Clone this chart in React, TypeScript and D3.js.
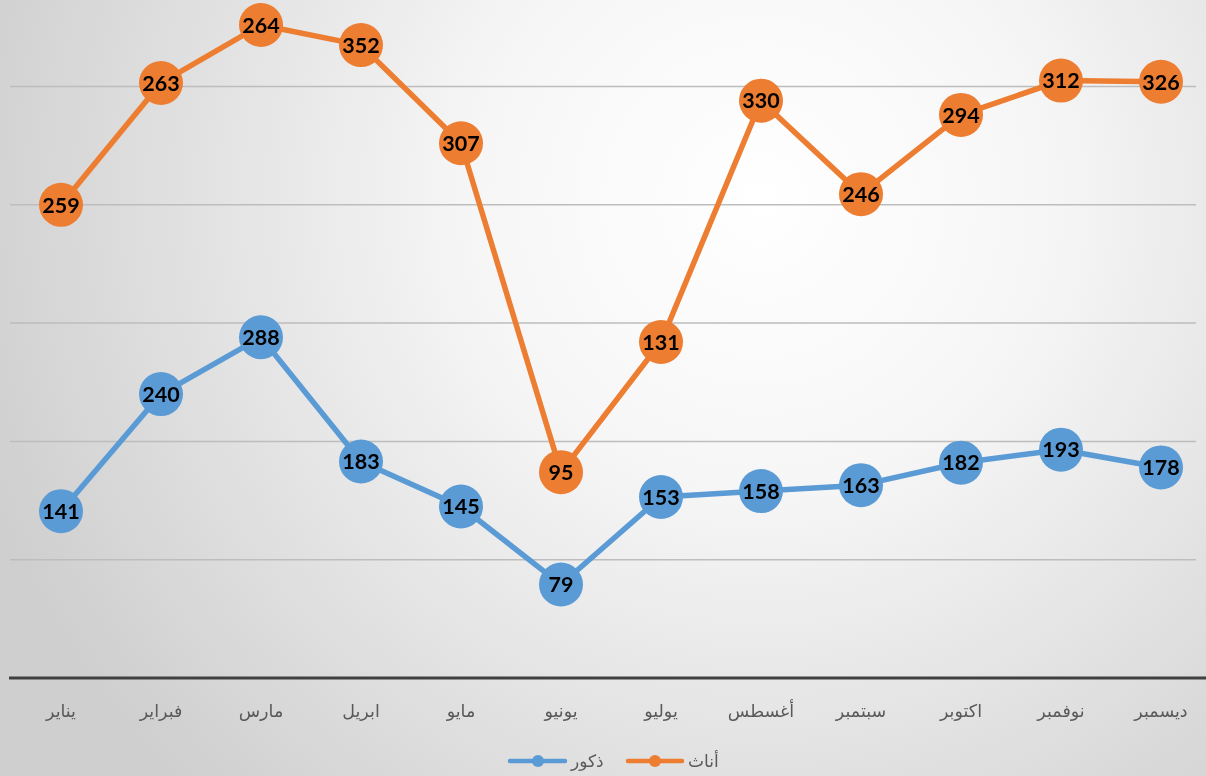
import React from 'react'
import * as d3 from 'd3'

const months = ['يناير', 'فبراير', 'مارس', 'ابريل', 'مايو', 'يونيو', 'يوليو', 'أغسطس', 'سبتمبر', 'اكتوبر', 'نوفمبر', 'ديسمبر']
const males = [141, 240, 288, 183, 145, 79, 153, 158, 163, 182, 193, 178]
const females = [259, 263, 264, 352, 307, 95, 131, 330, 246, 294, 312, 326]
const gridValues = [100, 200, 300, 400, 500]

const BLUE = '#5B9BD5'
const ORANGE = '#ED7D31'

const W = 1206
const H = 776

export default function App() {
  // stacked line chart: the female line sits on top of the male one
  const x = d3.scaleBand<string>().domain(months).range([11, 1211])
  const y = d3.scaleLinear().domain([0, 500]).range([678, 86.5])

  const maleRows = males.map((v, i) => ({ m: months[i], v, top: v }))
  const femaleRows = females.map((v, i) => ({ m: months[i], v, top: v + males[i] }))

  const line = d3.line<{ m: string; top: number }>()
    .x(d => (x(d.m) as number) + x.bandwidth() / 2)
    .y(d => y(d.top))

  const series = [
    { rows: maleRows, color: BLUE },
    { rows: femaleRows, color: ORANGE },
  ]

  return (
    <div style={{ position: 'fixed', left: 0, top: 0 }}>
      <svg width={W} height={H} style={{ display: 'block' }}>
        <defs>
          <radialGradient id="bg" cx="760" cy="200" r="820" gradientUnits="userSpaceOnUse">
            <stop offset="0" stopColor="#ffffff" />
            <stop offset="0.35" stopColor="#f6f6f6" />
            <stop offset="1" stopColor="#cfcfcf" />
          </radialGradient>
        </defs>
        <rect width={W} height={H} fill="url(#bg)" />

        {gridValues.map(g => (
          <line key={g} x1={10} x2={1196} y1={y(g)} y2={y(g)} stroke="#bdbdbd" strokeWidth={1.5} />
        ))}
        <line x1={9} x2={W} y1={y(0)} y2={y(0)} stroke="#404040" strokeWidth={3} />

        {months.map(m => (
          <text key={m} x={(x(m) as number) + x.bandwidth() / 2} y={717} textAnchor="middle"
            fontFamily="'DejaVu Sans', sans-serif" fontSize={17.5} fill="#595959">{m}</text>
        ))}

        {series.map((s, si) => (
          <g key={si}>
            <path d={line(s.rows) ?? ''} fill="none" stroke={s.color} strokeWidth={5.5} strokeLinejoin="round" />
            {s.rows.map(r => {
              const cx = (x(r.m) as number) + x.bandwidth() / 2
              const cy = y(r.top)
              return (
                <g key={r.m}>
                  <circle cx={cx} cy={cy} r={22} fill={s.color} />
                  <text x={cx} y={cy} dy="0.36em" textAnchor="middle" fontFamily="Lato, 'Open Sans', sans-serif"
                    fontWeight="bold" fontSize={21.5} fill="#000">{r.v}</text>
                </g>
              )
            })}
          </g>
        ))}

        {/* legend */}
        <g>
          <line x1={510} x2={565} y1={761} y2={761} stroke={BLUE} strokeWidth={4.5} strokeLinecap="round" />
          <circle cx={538} cy={761} r={6} fill={BLUE} />
          <text x={571} y={767} textAnchor="start" fontFamily="'DejaVu Sans', sans-serif" fontSize={17} fill="#595959">ذكور</text>
          <line x1={628} x2={682} y1={761} y2={761} stroke={ORANGE} strokeWidth={4.5} strokeLinecap="round" />
          <circle cx={655} cy={761} r={6} fill={ORANGE} />
          <text x={688} y={767} textAnchor="start" fontFamily="'DejaVu Sans', sans-serif" fontSize={17} fill="#595959">أناث</text>
        </g>
      </svg>
    </div>
  )
}
